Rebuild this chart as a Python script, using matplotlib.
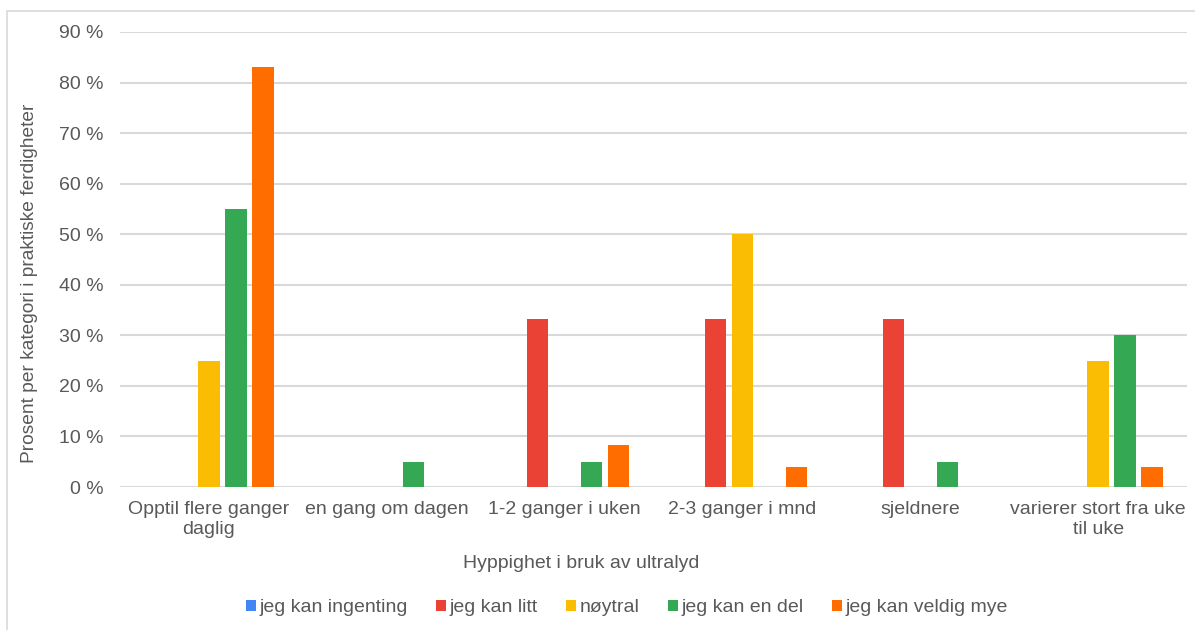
import matplotlib
matplotlib.use("Agg")
import matplotlib.pyplot as plt
import numpy as np
from matplotlib.patches import Rectangle

categories = ["Opptil flere ganger\ndaglig", "en gang om dagen", "1-2 ganger i uken",
              "2-3 ganger i mnd", "sjeldnere", "varierer stort fra uke\ntil uke"]
series_names = ["jeg kan ingenting", "jeg kan litt", "nøytral", "jeg kan en del", "jeg kan veldig mye"]
ingenting = [0, 0, 0, 0, 0, 0]
litt = [0, 0, 33.3, 33.3, 33.3, 0]
noytral = [25, 0, 0, 50, 0, 25]
en_del = [55, 5, 5, 0, 5, 30]
veldig_mye = [83, 0, 8.3, 4, 0, 4]
y_ticks = [0, 10, 20, 30, 40, 50, 60, 70, 80, 90]

colors = ["#4285F4", "#EA4335", "#FBBC04", "#34A853", "#FF6D01"]
values = [ingenting, litt, noytral, en_del, veldig_mye]

plt.rcParams['font.family'] = ['Liberation Sans', 'DejaVu Sans']
text_color = "#595959"

fig = plt.figure(figsize=(11.95, 6.3), dpi=100)
fig.patches.append(Rectangle((7 / 1195, -0.01), 1.1, 1 - 11 / 630 + 0.01, transform=fig.transFigure,
                             fill=False, edgecolor="#d9d9d9", linewidth=1.2))
ax = fig.add_axes([120 / 1195, 1 - 487 / 630, (1187 - 120) / 1195, (487 - 32) / 630])

x = np.arange(len(categories))
pitch = 0.152
width = 0.12
for i, (name, vals, c) in enumerate(zip(series_names, values, colors)):
    ax.bar(x + (i - 2) * pitch, vals, width=width, color=c, label=name, zorder=3)

ax.set_xlim(-0.5, len(categories) - 0.5)
ax.set_ylim(0, 90)
ax.set_yticks(y_ticks)
ax.set_yticklabels([f"{v} %" for v in y_ticks])
ax.set_xticks(x)
ax.set_xticklabels(categories)
ax.yaxis.grid(True, color="#d9d9d9", linewidth=1.5, zorder=0)
ax.set_axisbelow(True)
for s in ax.spines.values():
    s.set_visible(False)
ax.tick_params(axis="both", length=0, labelsize=14, colors=text_color)
ax.tick_params(axis="y", pad=12)
ax.tick_params(axis="x", pad=10)
for lbl in ax.get_xticklabels():
    lbl.set_linespacing(1.25)

fig.text(581 / 1195, 1 - 563 / 630, "Hyppighet i bruk av ultralyd", ha="center", va="center",
         fontsize=14, color=text_color)
fig.text(30 / 1195, 1 - 283 / 630, "Prosent per kategori i praktiske ferdigheter", rotation=90,
         ha="center", va="center", fontsize=13.8, color=text_color)

handles, labels = ax.get_legend_handles_labels()
leg = fig.legend(handles, labels, loc="center", bbox_to_anchor=(627 / 1195, 1 - 608 / 630), ncol=5,
                 frameon=False, fontsize=14, handlelength=0.5, handleheight=0.5, handletextpad=0.2,
                 columnspacing=1.45, labelcolor=text_color)

fig.savefig("out.png", dpi=100)
